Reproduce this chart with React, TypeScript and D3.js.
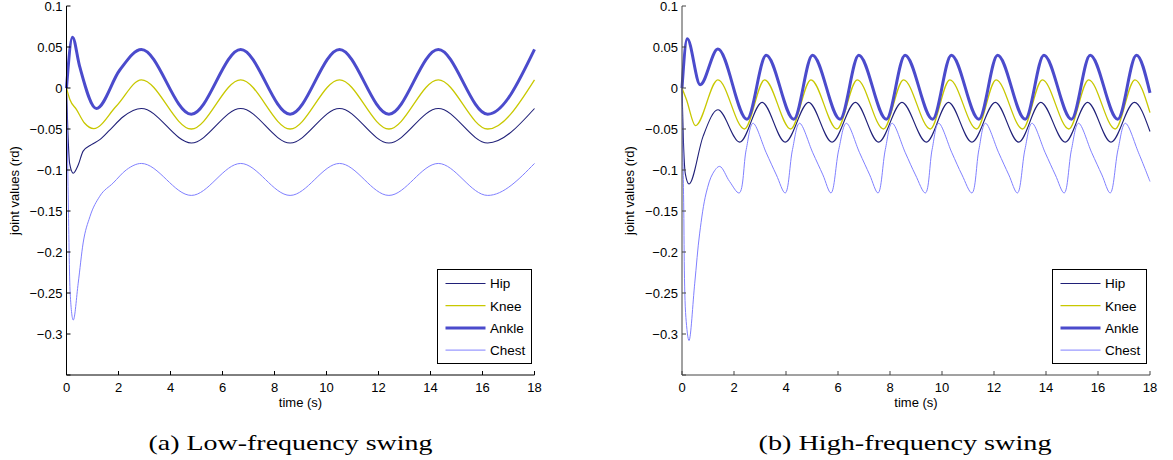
import React from "react";
import * as d3 from "d3";

type P = [number, number];

// ---------- data: time (s), joint value (rd) ----------
const leftHip: P[] = [[0,0],[0.05,-0.05],[0.12,-0.092],[0.26,-0.104],[0.45,-0.094],[0.64,-0.077],[0.96,-0.069],[1.28,-0.063],[1.67,-0.051],[2.18,-0.035],[2.88,-0.025],[4.8,-0.067],[6.7,-0.025],[8.6,-0.067],[10.5,-0.025],[12.4,-0.067],[14.3,-0.025],[16.2,-0.067],[18,-0.025]];
const leftKnee: P[] = [[0,0],[0.13,-0.014],[0.38,-0.026],[0.7,-0.043],[1.05,-0.0495],[1.92,-0.022],[2.88,0.01],[4.8,-0.05],[6.7,0.01],[8.6,-0.05],[10.5,0.01],[12.4,-0.05],[14.3,0.01],[16.2,-0.05],[18,0.01]];
const leftAnkle: P[] = [[0,0],[0.23,0.062],[0.5,0.027],[1.15,-0.025],[2.05,0.022],[2.88,0.047],[4.8,-0.032],[6.7,0.047],[8.6,-0.032],[10.5,0.047],[12.4,-0.032],[14.3,0.047],[16.2,-0.032],[18,0.047]];
const leftChest: P[] = [[0,0],[0.06,-0.12],[0.14,-0.25],[0.26,-0.283],[0.45,-0.238],[0.64,-0.189],[0.9,-0.157],[1.28,-0.132],[1.79,-0.116],[2.31,-0.0996],[2.88,-0.092],[4.8,-0.131],[6.7,-0.092],[8.6,-0.131],[10.5,-0.092],[12.4,-0.131],[14.3,-0.092],[16.2,-0.131],[18,-0.092]];

const rightHip: P[] = [[0,0],[0.05,-0.06],[0.13,-0.105],[0.27,-0.117],[0.81,-0.059],[1.38,-0.0265],[2.22,-0.066],[3.08,-0.0175],[3.97,-0.066],[4.87,-0.0175],[5.77,-0.066],[6.67,-0.0175],[7.56,-0.066],[8.46,-0.0175],[9.4,-0.066],[10.25,-0.0175],[11.15,-0.066],[12.05,-0.0175],[12.95,-0.066],[13.8,-0.0175],[14.74,-0.066],[15.6,-0.0175],[16.5,-0.066],[17.4,-0.0175],[18,-0.053]];
const rightKnee: P[] = [[0,0],[0.17,-0.014],[0.52,-0.046],[1.38,0.01],[2.4,-0.05],[3.18,0.01],[4.18,-0.05],[4.96,0.01],[5.96,-0.05],[6.74,0.01],[7.75,-0.05],[8.52,0.01],[9.55,-0.05],[10.3,0.01],[11.33,-0.05],[12.08,0.01],[13.1,-0.05],[13.86,0.01],[14.88,-0.05],[15.64,0.01],[16.66,-0.05],[17.42,0.01],[18,-0.03]];
const rightAnkle: P[] = [[0,0],[0.2,0.06],[0.7,0.004],[1.38,0.0476],[2.5,-0.038],[3.24,0.04],[4.3,-0.038],[5.02,0.04],[6.08,-0.038],[6.8,0.04],[7.86,-0.038],[8.58,0.04],[9.64,-0.038],[10.36,0.04],[11.42,-0.038],[12.14,0.04],[13.2,-0.038],[13.92,0.04],[14.98,-0.038],[15.7,0.04],[16.76,-0.038],[17.48,0.04],[18,-0.006]];
const rightChest: P[] = [[0,0],[0.06,-0.13],[0.15,-0.28],[0.27,-0.308],[0.49,-0.238],[0.68,-0.177],[0.93,-0.128],[1.19,-0.104],[1.45,-0.0956],[1.83,-0.114],[2.2,-0.128],[2.47,-0.075],[2.73,-0.043],[3.24,-0.079],[3.63,-0.106],[3.97,-0.128],[4.25,-0.075],[4.52,-0.043],[5.03,-0.079],[5.42,-0.106],[5.73,-0.128],[6.03,-0.075],[6.32,-0.043],[6.83,-0.079],[7.22,-0.106],[7.54,-0.128],[7.82,-0.075],[8.08,-0.043],[8.59,-0.079],[8.98,-0.106],[9.36,-0.128],[9.62,-0.075],[9.87,-0.043],[10.38,-0.079],[10.77,-0.106],[11.15,-0.128],[11.42,-0.075],[11.67,-0.043],[12.18,-0.079],[12.57,-0.106],[12.9,-0.128],[13.19,-0.075],[13.46,-0.043],[13.97,-0.079],[14.36,-0.106],[14.7,-0.128],[14.98,-0.075],[15.25,-0.043],[15.76,-0.079],[16.15,-0.106],[16.47,-0.128],[16.77,-0.075],[17.05,-0.043],[17.56,-0.079],[18,-0.114]];

const seriesNames = ["Hip", "Knee", "Ankle", "Chest"];
const seriesColors = ["#202078", "#c8c800", "#4b4bcc", "#8080ff"];
const seriesWidths = [1.1, 1.3, 3, 1];

const xTicks = [0, 2, 4, 6, 8, 10, 12, 14, 16, 18];
const yTicks = [0.1, 0.05, 0, -0.05, -0.1, -0.15, -0.2, -0.25, -0.3, -0.35];
const yTickLabels = ["0.1", "0.05", "0", "\u22120.05", "\u22120.1", "\u22120.15", "\u22120.2", "\u22120.25", "\u22120.3", ""];

const captions = ["(a) Low-frequency swing", "(b) High-frequency swing"];

const SANS = "'Liberation Sans', Arial, Helvetica, sans-serif";
const SERIF = "'Liberation Serif', 'Times New Roman', serif";

type PanelProps = {
  x0: number; x1: number; data: P[][]; curves: any[]; axisColor: string;
  legendX: number; caption: string; captionCx: number; captionW: number; ylabelX: number;
};

function Panel({ x0, x1, data, curves, axisColor, legendX, caption, captionCx, captionW, ylabelX }: PanelProps) {
  const yTop = 6, yBot = 375;
  const x = d3.scaleLinear().domain([0, 18]).range([x0, x1]);
  const y = d3.scaleLinear().domain([-0.35, 0.1]).range([yBot, yTop]);
  const lgTop = 269, lgH = 94, lgW = 94;
  return (
    <g>
      {data.map((s, i) => {
        const line = d3.line<P>().x(d => x(d[0])).y(d => y(d[1])).curve(curves[i]);
        return <path key={i} d={line(s) || ""} fill="none" stroke={seriesColors[i]} strokeWidth={seriesWidths[i]} strokeLinejoin="round" />;
      })}
      <line x1={x0} x2={x0} y1={yTop} y2={yBot} stroke={axisColor} strokeWidth={1} />
      <line x1={x0} x2={x1} y1={yBot} y2={yBot} stroke={axisColor} strokeWidth={1} />
      {yTicks.map((t, i) => (
        <g key={"y" + i}>
          <line x1={x0} x2={x0 + 4} y1={y(t)} y2={y(t)} stroke={axisColor} strokeWidth={1} />
          <text x={x0 - 4} y={y(t)} dy="0.36em" textAnchor="end" fontFamily={SANS} fontSize={13} fill="#000">{yTickLabels[i]}</text>
        </g>
      ))}
      {xTicks.map((t, i) => (
        <g key={"x" + i}>
          <line x1={x(t)} x2={x(t)} y1={yBot} y2={yBot - 4} stroke={axisColor} strokeWidth={1} />
          <text x={x(t)} y={392} textAnchor="middle" fontFamily={SANS} fontSize={13} fill="#000">{String(t)}</text>
        </g>
      ))}
      <text x={(x0 + x1) / 2} y={407} textAnchor="middle" fontFamily={SANS} fontSize={13} fill="#000">time (s)</text>
      <text transform={`translate(${ylabelX},${(yTop + yBot) / 2}) rotate(-90)`} textAnchor="middle" fontFamily={SANS} fontSize={13} fill="#000">joint values (rd)</text>
      <rect x={legendX + 0.5} y={lgTop + 0.5} width={lgW} height={lgH} fill="#fff" stroke="#000" strokeWidth={1} />
      {seriesNames.map((n, i) => {
        const ry = lgTop + 14.5 + i * 22.2;
        return (
          <g key={n}>
            <line x1={legendX + 8.5} x2={legendX + 48.5} y1={ry} y2={ry} stroke={seriesColors[i]} strokeWidth={seriesWidths[i]} />
            <text x={legendX + 53} y={ry} dy="0.36em" fontFamily={SANS} fontSize={13.5} fill="#000">{n}</text>
          </g>
        );
      })}
      <text x={captionCx} y={450} textAnchor="middle" fontFamily={SERIF} fontSize={21} fill="#000" textLength={captionW} lengthAdjust="spacingAndGlyphs">{caption}</text>
    </g>
  );
}

export default function App() {
  const mono = d3.curveMonotoneX;
  const cr = d3.curveCatmullRom.alpha(0.5);
  return (
    <svg width={1173} height={460} viewBox="0 0 1173 460" style={{ position: "absolute", left: 0, top: 0, display: "block", background: "#fff" }}>
      <rect x={0} y={0} width={1173} height={460} fill="#fff" />
      <Panel x0={66.5} x1={534.5} data={[leftHip, leftKnee, leftAnkle, leftChest]} curves={[mono, mono, mono, mono]} axisColor="#000" legendX={437} caption={captions[0]} captionCx={290.5} captionW={284} ylabelX={19} />
      <Panel x0={682} x1={1150} data={[rightHip, rightKnee, rightAnkle, rightChest]} curves={[mono, mono, mono, cr]} axisColor="#444" legendX={1052} caption={captions[1]} captionCx={905} captionW={293} ylabelX={634} />
    </svg>
  );
}
